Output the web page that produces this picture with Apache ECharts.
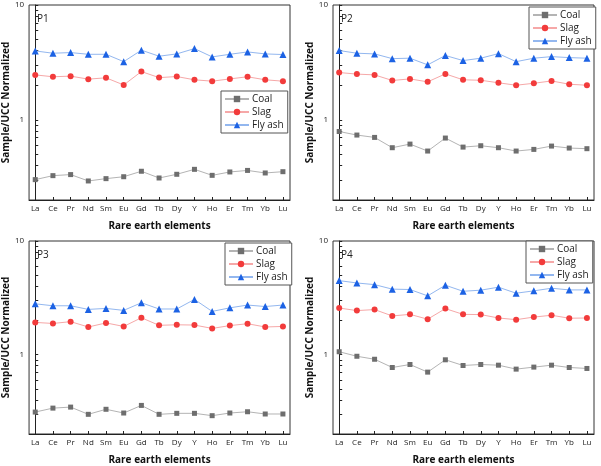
<!DOCTYPE html>
<html>
<head>
<meta charset="utf-8">
<script src="https://cdn.jsdelivr.net/npm/echarts@6/dist/echarts.min.js"></script>
<style>html,body{margin:0;padding:0;background:#fff;}#c{width:601px;height:466px;}</style>
</head>
<body>
<div id="c"></div>
<script>
var categories = ['La','Ce','Pr','Nd','Sm','Eu','Gd','Tb','Dy','Y','Ho','Er','Tm','Yb','Lu'];
var seriesNames = ['Coal','Slag','Fly ash'];
var panelLabels = ['P1','P2','P3','P4'];
var yTickLabels = [1, 10];

var p1Coal   = [0.301,0.326,0.333,0.293,0.307,0.319,0.356,0.311,0.335,0.370,0.328,0.351,0.362,0.344,0.353];
var p1Slag   = [2.46,2.37,2.40,2.26,2.32,2.01,2.63,2.33,2.38,2.23,2.17,2.27,2.37,2.23,2.17];
var p1FlyAsh = [3.98,3.80,3.85,3.72,3.72,3.21,4.04,3.58,3.75,4.17,3.53,3.72,3.90,3.75,3.70];

var p2Coal   = [0.79,0.736,0.702,0.571,0.614,0.534,0.693,0.578,0.594,0.571,0.534,0.552,0.590,0.567,0.560];
var p2Slag   = [2.58,2.50,2.46,2.20,2.27,2.14,2.51,2.23,2.21,2.10,2.00,2.08,2.18,2.04,2.00];
var p2FlyAsh = [4.01,3.80,3.75,3.41,3.44,3.01,3.63,3.28,3.44,3.77,3.21,3.44,3.55,3.48,3.44];

var p3Coal   = [0.312,0.338,0.345,0.298,0.330,0.306,0.357,0.298,0.304,0.304,0.290,0.306,0.314,0.300,0.300];
var p3Slag   = [1.92,1.88,1.95,1.75,1.90,1.77,2.11,1.81,1.83,1.82,1.70,1.80,1.87,1.75,1.77];
var p3FlyAsh = [2.80,2.69,2.69,2.50,2.55,2.45,2.86,2.52,2.52,3.06,2.40,2.58,2.73,2.65,2.73];

var p4Coal   = [1.06,0.967,0.91,0.77,0.818,0.701,0.90,0.802,0.818,0.807,0.745,0.776,0.807,0.77,0.755];
var p4Slag   = [2.57,2.44,2.49,2.19,2.26,2.05,2.54,2.26,2.25,2.10,2.03,2.14,2.22,2.09,2.10];
var p4FlyAsh = [4.48,4.27,4.13,3.77,3.74,3.29,4.08,3.61,3.69,3.92,3.47,3.64,3.84,3.71,3.71];

var panels = [[p1Coal,p1Slag,p1FlyAsh],[p2Coal,p2Slag,p2FlyAsh],[p3Coal,p3Slag,p3FlyAsh],[p4Coal,p4Slag,p4FlyAsh]];

var font = 'Open Sans';
var grids = [
  {left:29, top:5, width:261, height:195},
  {left:333, top:5, width:261, height:195},
  {left:29, top:241, width:261, height:194},
  {left:333, top:241, width:261, height:194}
];
var legendPos = [
  {left:221, top:91},
  {left:529, top:7},
  {left:225, top:243},
  {left:526, top:241}
];
var styles = [
  {symbol:'rect', size:5, mark:'#6e6e6e', line:'#b4b4b4'},
  {symbol:'circle', size:6, mark:'#f23b3b', line:'#f6a8a8'},
  {symbol:'triangle', size:7, mark:'#1c62e4', line:'#93b7ef'}
];
var minorVals = [0.2,0.3,0.4,0.5,0.6,0.7,0.8,0.9,1,2,3,4,5,6,7,8,9,10];

var option = {
  animation:false,
  backgroundColor:'#fff',
  grid: grids.map(function(g){return Object.assign({show:true, borderColor:'#333', borderWidth:1, backgroundColor:'transparent'}, g);}),
  title: panelLabels.map(function(t,i){return {text:t, left:grids[i].left+3, top:grids[i].top+4, textStyle:{fontFamily:font, fontSize:10, fontWeight:'normal', color:'#222'}};}),
  legend: legendPos.map(function(p){return {
    data:seriesNames, orient:'vertical', left:p.left, top:p.top,
    itemGap:3, itemWidth:24, itemHeight:8, padding:[3,4,3,3],
    borderColor:'#555', borderWidth:1, backgroundColor:'#fff',
    textStyle:{fontFamily:font, fontSize:10, color:'#222', padding:[0,0,0,-2]}
  };}),
  xAxis: grids.map(function(g,i){return {
    type:'value', gridIndex:i, min:-0.35, max:14.4,
    name:'Rare earth elements', nameLocation:'middle', nameGap:21,
    nameTextStyle:{fontFamily:font, fontSize:10, fontWeight:'bold', color:'#111'},
    axisLine:{show:true, lineStyle:{color:'#222', width:1}},
    axisTick:{show:true, inside:true, length:3, customValues:categories.map(function(c,k){return k;}), lineStyle:{color:'#222'}},
    axisLabel:{show:true, margin:5, fontFamily:font, fontSize:8, color:'#222', customValues:categories.map(function(c,k){return k;}), formatter:function(v){return categories[Math.round(v)];}},
    splitLine:{show:false}
  };}),
  yAxis: grids.map(function(g,i){return {
    type:'log', logBase:10, gridIndex:i, min:0.2, max:10,
    name:'Sample/UCC Normalized', nameLocation:'middle', nameGap:12,
    nameTextStyle:{fontFamily:font, fontSize:10, fontWeight:'bold', color:'#111'},
    axisLine:{show:true, lineStyle:{color:'#222', width:1}},
    axisTick:{show:true, inside:true, length:3, customValues:minorVals, lineStyle:{color:'#222'}},
    axisLabel:{show:true, margin:5, fontFamily:font, fontSize:8, color:'#222', customValues:yTickLabels, formatter:function(v){return String(Math.round(v*1000)/1000);}},
    splitLine:{show:false}
  };}),
  series: []
};
panels.forEach(function(p,i){
  p.forEach(function(vals,j){
    var s = styles[j];
    option.series.push({
      type:'line', name:seriesNames[j], xAxisIndex:i, yAxisIndex:i,
      data: vals.map(function(v,k){return [k,v];}),
      symbol:s.symbol, symbolSize:s.size,
      itemStyle:{color:s.mark},
      lineStyle:{color:s.line, width:1},
      emphasis:{disabled:true}
    });
  });
});
var chart = echarts.init(document.getElementById('c'), null, {renderer:'canvas'});
chart.setOption(option);
</script>
</body>
</html>
